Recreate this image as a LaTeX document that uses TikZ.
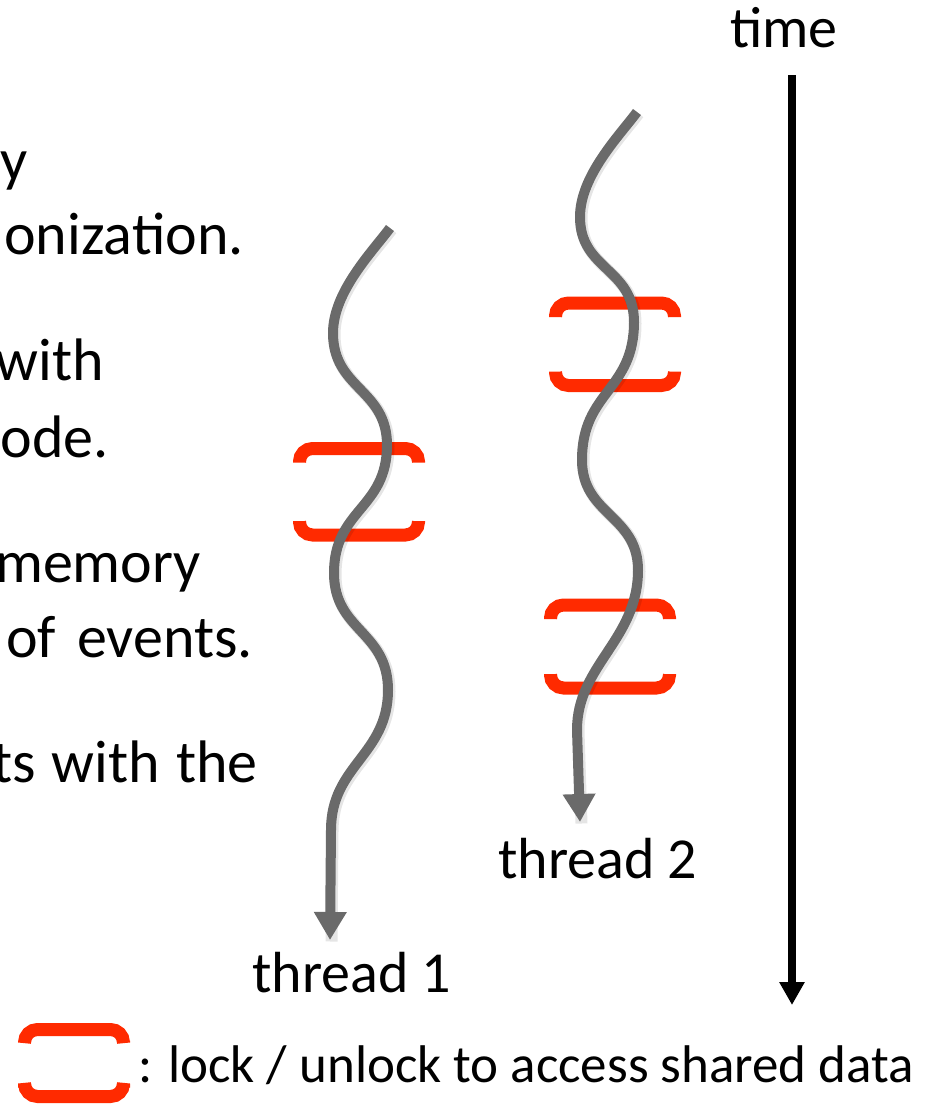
\documentclass[tikz,border=0pt]{standalone}
\usepackage{fontspec}
\setmainfont{Carlito}
\usetikzlibrary{arrows.meta}

\definecolor{threadgray}{RGB}{106,106,106}
\definecolor{lockred}{RGB}{255,42,0}

\tikzset{
  lock hw/.store in=\lockhw, lock hw=59.5,
  lock stub/.store in=\lockstub, lock stub=14,
  thread/.style={draw=threadgray, line width=10pt,
    -{Triangle[width=31pt,length=28pt]},
    preaction={draw=black, opacity=0.10, line width=12pt, -,
      transform canvas={shift={(1.5pt,-1.5pt)}}}},
  lockbar/.style={draw=lockred, line width=13pt, rounded corners=13pt},
  bodytext/.style={font=\fontsize{60}{72}\selectfont, inner sep=0pt, anchor=base east},
  labeltext/.style={font=\fontsize{58}{70}\selectfont, inner sep=0pt, anchor=base west},
  legendtext/.style={font=\fontsize{53}{64}\selectfont, inner sep=0pt, anchor=base west},
  % opening half of a critical section (lock)
  lockopen/.pic={\draw[lockbar] (-\lockhw,\lockstub) |- (\lockhw,0) -- (\lockhw,\lockstub);},
  % closing half of a critical section (unlock)
  lockclose/.pic={\draw[lockbar] (-\lockhw,-\lockstub) |- (\lockhw,0) -- (\lockhw,-\lockstub);},
}

\begin{document}
\begin{tikzpicture}[x=1pt,y=-1pt]
\useasboundingbox (0,0) rectangle (935,1104);
\clip (0,0) rectangle (935,1104);

% explanatory text (justified lines), running off the left edge
\node[bodytext] (l1) at (28,180) {y};
\node[bodytext] (l2) at (244,254) {onization.};
\node[bodytext] (l3) at (104,380) {with};
\node[bodytext] (l4) at (109,457) {ode.};
\node[bodytext] (l5) at (201,582) {memory};
\node[bodytext] (l6) at (253,657) {of\hspace{21pt}events.};
\node[bodytext] (l7) at (258,782) {ts\hspace{16pt}with\hspace{16pt}the};

% critical sections of thread 1
\pic at (359,448.5) {lockopen};
\pic at (359,535) {lockclose};
% critical sections of thread 2
\pic at (615,303) {lockopen};
\pic at (615,385.5) {lockclose};
\pic at (610,605) {lockopen};
\pic at (610,688) {lockclose};

% thread 1
\coordinate (a0) at (390,228);
\coordinate (a1) at (333,333);
\coordinate (a2) at (387,445);
\coordinate (a3) at (334,573);
\coordinate (a4) at (388,690);
\coordinate (a5) at (331,830);
\coordinate (a6) at (330,940);
\draw[thread] (a0) .. controls (372,252) and (333,292) .. (a1)
  .. controls (333,389) and (387,389) .. (a2)
  .. controls (387,509) and (334,509) .. (a3)
  .. controls (334,631) and (388,631) .. (a4)
  .. controls (388,755) and (331,765) .. (a5)
  -- (a6);
\node[labeltext] (t1) at (252,992) {thread 1};

% thread 2
\coordinate (b0) at (637,112);
\coordinate (b1) at (580,217);
\coordinate (b2) at (634,322);
\coordinate (b3) at (582,460);
\coordinate (b4) at (638,570);
\coordinate (b5) at (577,730);
\coordinate (b6) at (580,822);
\draw[thread] (b0) .. controls (619,136) and (580,176) .. (b1)
  .. controls (580,270) and (634,268) .. (b2)
  .. controls (634,391) and (582,391) .. (b3)
  .. controls (582,515) and (638,515) .. (b4)
  .. controls (638,640) and (577,665) .. (b5)
  -- (b6);
\node[labeltext] (t2) at (498,878) {thread 2};

% time axis
\node[labeltext] (time) at (730,47) {time};
\coordinate (ts) at (792,75);
\coordinate (te) at (792,1005);
\draw[line width=8pt, -{Triangle[width=24pt,length=23pt]}] (ts) -- (te);

% legend
\pic[lock hw=49.5, lock stub=11] at (74,1029.5) {lockopen};
\pic[lock hw=49.5, lock stub=9] at (74,1096.5) {lockclose};
\node[legendtext] (legend) at (138,1082) {: lock / unlock to access shared data};
\end{tikzpicture}
\end{document}
